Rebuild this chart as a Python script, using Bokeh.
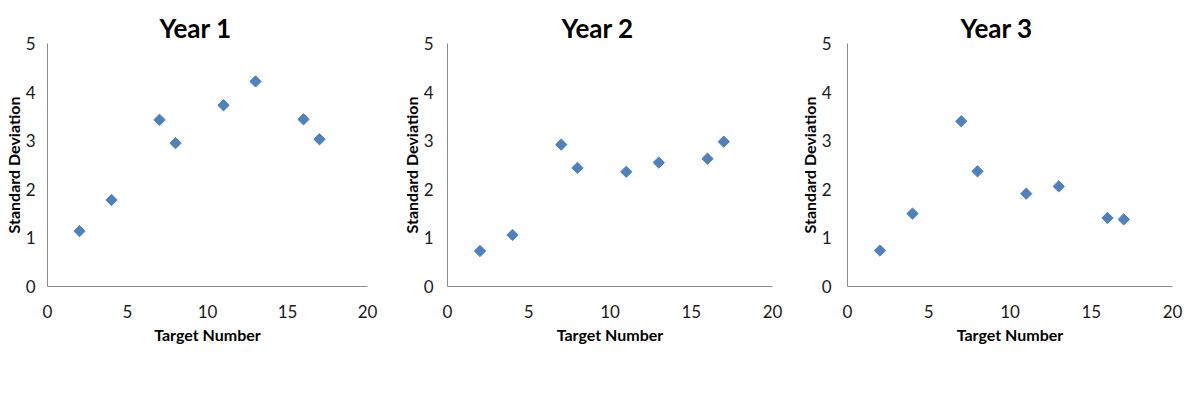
from bokeh.plotting import figure
from bokeh.layouts import row
from bokeh.models import Range1d, FixedTicker
from bokeh.embed import file_html
from bokeh.resources import INLINE
import math

target_number = [2, 4, 7, 8, 11, 13, 16, 17]
year1_sd = [1.14, 1.78, 3.43, 2.95, 3.73, 4.22, 3.44, 3.03]
year2_sd = [0.73, 1.06, 2.92, 2.44, 2.36, 2.55, 2.63, 2.98]
year3_sd = [0.74, 1.50, 3.40, 2.37, 1.91, 2.06, 1.41, 1.38]
titles = ["Year 1", "Year 2", "Year 3"]
x_ticks = [0, 5, 10, 15, 20]
y_ticks = [0, 1, 2, 3, 4, 5]
x_label = "Target Number"
y_label = "Standard Deviation"

FONT = "Lato"
MARKER = "#4F81BD"
AXIS = "#8c8c8c"
TEXT = "#1a1a1a"

# per-panel layout: (fig width, left border, right border, title offset, y label standoff)
layouts = [(398, 38, 31, 112, 12), (398, 40, 24, 114, 14), (388, 48, 12, 113, 16)]


def make_panel(title, ys, width, left, right, toff, ystand):
    p = figure(width=width, height=408, output_backend="svg", toolbar_location=None,
               x_range=Range1d(0, 20), y_range=Range1d(0, 5),
               min_border_left=left, min_border_right=right,
               min_border_top=43, min_border_bottom=122)
    p.outline_line_color = None
    p.xgrid.visible = False
    p.ygrid.visible = False
    p.background_fill_color = "white"
    p.border_fill_color = "white"

    p.title.text = title
    p.title.align = "left"
    p.title.offset = toff
    p.title.standoff = 0
    p.title.text_font = FONT
    p.title.text_font_style = "bold"
    p.title.text_font_size = "26px"
    p.title.text_color = "black"

    p.scatter(target_number, ys, marker="square", size=8, angle=math.pi / 4,
              fill_color=MARKER, line_color=MARKER)

    for ax in (p.xaxis[0], p.yaxis[0]):
        ax.axis_line_color = AXIS
        ax.axis_line_width = 1
        ax.major_tick_out = 0
        ax.major_tick_in = 0
        ax.minor_tick_out = 0
        ax.minor_tick_in = 0
        ax.major_label_text_font = FONT
        ax.major_label_text_font_size = "17px"
        ax.major_label_text_color = TEXT
        ax.axis_label_text_font = FONT
        ax.axis_label_text_font_style = "bold"
        ax.axis_label_text_font_size = "16px"
        ax.axis_label_text_color = "black"

    p.xaxis.ticker = FixedTicker(ticks=x_ticks)
    p.yaxis.ticker = FixedTicker(ticks=y_ticks)
    p.xaxis.axis_label = x_label
    p.yaxis.axis_label = y_label
    p.xaxis.major_label_standoff = 18
    p.xaxis.axis_label_standoff = 4
    p.yaxis.major_label_standoff = ystand
    p.yaxis.axis_label_standoff = 0
    return p


panels = []
for (w, l, r, o, s), t, ys in zip(layouts, titles, [year1_sd, year2_sd, year3_sd]):
    panels.append(make_panel(t, ys, w, l, r, o, s))

layout = row(*panels, spacing=0)
open("out.html", "w").write(file_html(layout, INLINE))
